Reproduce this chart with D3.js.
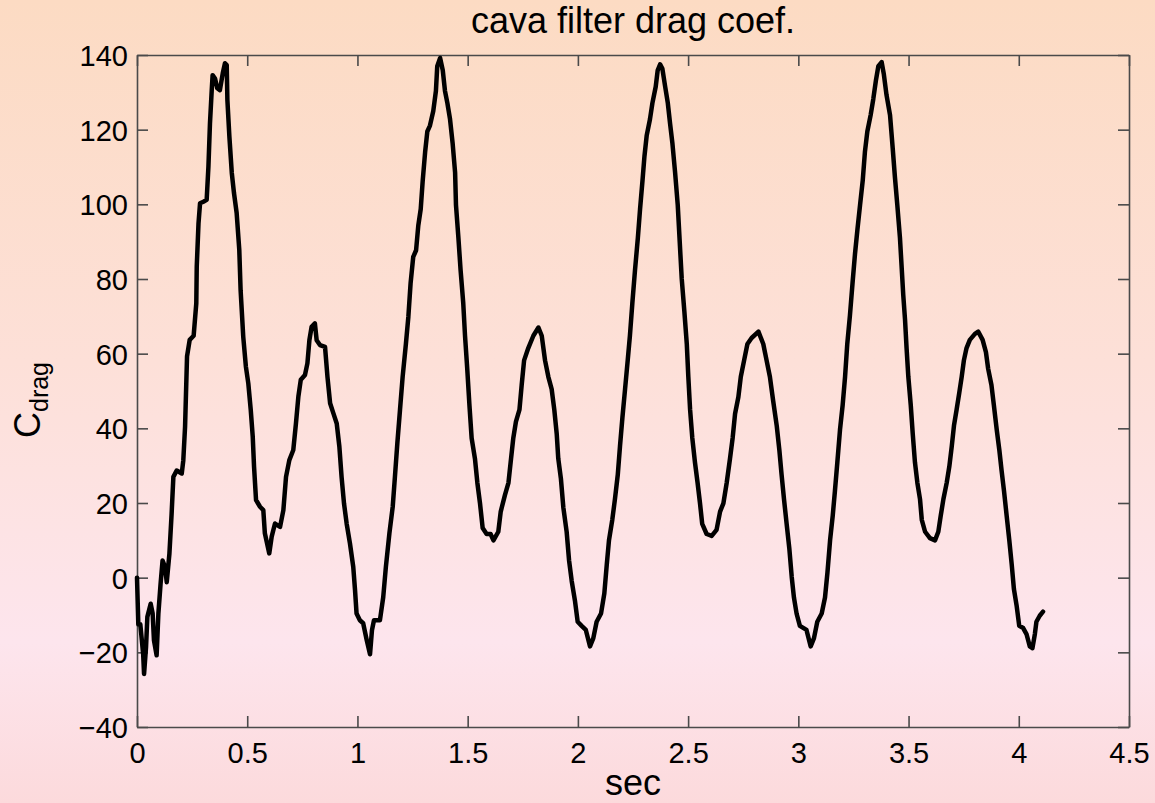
<!DOCTYPE html>
<html>
<head>
<meta charset="utf-8">
<script src="https://cdn.jsdelivr.net/npm/d3@7"></script>
<style>
  html, body { margin: 0; padding: 0; }
  body { width: 1155px; height: 803px; overflow: hidden; }
  text { font-family: "Liberation Sans", Arial, sans-serif; fill: #000; }
</style>
</head>
<body>
<svg id="chart" width="1155" height="803"></svg>
<script>
// ---- data ----
const timeSec = [
  0, 0.006, 0.015, 0.028, 0.032, 0.041, 0.047, 0.062, 0.071, 0.077, 0.089, 0.097, 0.107, 0.116, 0.127, 0.135,
  0.147, 0.157, 0.165, 0.18, 0.203, 0.21, 0.218, 0.227, 0.239, 0.257, 0.269, 0.271, 0.279, 0.286, 0.301, 0.316,
  0.324, 0.331, 0.339, 0.343, 0.354, 0.364, 0.376, 0.389, 0.399, 0.407, 0.41, 0.419, 0.43, 0.44, 0.452, 0.464,
  0.47, 0.482, 0.494, 0.505, 0.516, 0.525, 0.531, 0.54, 0.558, 0.573, 0.58, 0.6, 0.611, 0.626, 0.649, 0.664,
  0.676, 0.691, 0.709, 0.721, 0.732, 0.743, 0.762, 0.773, 0.782, 0.792, 0.807, 0.815, 0.83, 0.853, 0.864, 0.876,
  0.891, 0.906, 0.918, 0.928, 0.939, 0.951, 0.966, 0.981, 0.989, 0.996, 1.011, 1.026, 1.042, 1.057, 1.066, 1.075,
  1.102, 1.117, 1.129, 1.145, 1.16, 1.17, 1.181, 1.193, 1.205, 1.22, 1.231, 1.241, 1.253, 1.266, 1.276, 1.287,
  1.296, 1.307, 1.317, 1.329, 1.344, 1.356, 1.362, 1.375, 1.387, 1.397, 1.408, 1.42, 1.432, 1.443, 1.447, 1.458,
  1.468, 1.48, 1.488, 1.498, 1.508, 1.518, 1.533, 1.544, 1.556, 1.568, 1.586, 1.604, 1.617, 1.639, 1.65, 1.669,
  1.685, 1.695, 1.707, 1.719, 1.735, 1.745, 1.756, 1.775, 1.798, 1.821, 1.836, 1.851, 1.866, 1.881, 1.893, 1.904,
  1.911, 1.923, 1.934, 1.949, 1.96, 1.972, 1.987, 1.999, 2.017, 2.036, 2.055, 2.07, 2.085, 2.105, 2.12, 2.131,
  2.141, 2.156, 2.168, 2.181, 2.191, 2.202, 2.214, 2.226, 2.236, 2.247, 2.259, 2.272, 2.282, 2.293, 2.302, 2.312,
  2.327, 2.338, 2.353, 2.362, 2.373, 2.383, 2.396, 2.408, 2.418, 2.429, 2.441, 2.453, 2.463, 2.471, 2.483, 2.494,
  2.501, 2.509, 2.519, 2.531, 2.543, 2.554, 2.564, 2.584, 2.607, 2.629, 2.645, 2.66, 2.675, 2.69, 2.702, 2.713,
  2.728, 2.739, 2.754, 2.769, 2.788, 2.819, 2.841, 2.856, 2.871, 2.886, 2.902, 2.914, 2.924, 2.935, 2.947, 2.959,
  2.97, 2.98, 2.992, 3.007, 3.037, 3.056, 3.071, 3.086, 3.106, 3.121, 3.132, 3.144, 3.156, 3.166, 3.177, 3.189,
  3.201, 3.212, 3.222, 3.234, 3.246, 3.257, 3.268, 3.28, 3.292, 3.302, 3.313, 3.328, 3.34, 3.352, 3.363, 3.378,
  3.388, 3.4, 3.416, 3.428, 3.438, 3.449, 3.461, 3.476, 3.484, 3.491, 3.499, 3.51, 3.519, 3.529, 3.54, 3.552,
  3.56, 3.575, 3.597, 3.62, 3.635, 3.646, 3.658, 3.673, 3.685, 3.696, 3.706, 3.718, 3.73, 3.741, 3.751, 3.763,
  3.778, 3.801, 3.816, 3.836, 3.851, 3.861, 3.876, 3.887, 3.9, 3.912, 3.922, 3.933, 3.945, 3.957, 3.968, 3.978,
  3.99, 4.002, 4.02, 4.035, 4.05, 4.062, 4.073, 4.08, 4.095, 4.11
];
const cDrag = [
  0, -12.5, -12.5, -20.5, -25.8, -18.6, -10.5, -7, -9.6, -16.8, -20.8, -9.6, -1.6, 4.6, 2.9, -1.2,
  6.4, 17.1, 27, 28.7, 27.9, 31.4, 40.4, 59.3, 63.7, 64.8, 73.5, 83.3, 94.9, 100.3, 100.7, 101.2,
  110.1, 121.7, 130.6, 134.6, 133.7, 131.1, 130.6, 135.1, 137.8, 137.3, 128, 118.2, 108.4, 103, 97.7, 87.8,
  77, 64.5, 56.5, 52, 44.9, 37.8, 29.7, 20.8, 19, 18.1, 11.9, 6.5, 11, 14.5, 13.6, 18.1,
  27, 31.5, 34.2, 41.3, 48.5, 53, 54.3, 57.4, 63.6, 67.2, 68.1, 63.6, 62.3, 61.8, 53.8, 46.7,
  44, 41.3, 35.1, 27, 19.9, 14.5, 9.2, 2.9, -3.3, -9.6, -11.4, -12.2, -16.7, -20.5, -14, -11.4,
  -11.4, -5.2, 2.9, 11.9, 19, 27, 36, 44.9, 53.8, 62.7, 69.9, 78.8, 85.9, 87.7, 94.3, 98.7,
  106.3, 114, 119.5, 121.1, 125, 130.4, 137, 139.2, 135.9, 130.4, 127.1, 122.8, 116.2, 108.5, 99.8, 91,
  82.3, 73.5, 64.8, 56, 46.2, 37.4, 31.9, 25.4, 19.9, 13.3, 11.7, 11.7, 10, 12.3, 17.7, 22.1,
  25.4, 30.9, 37.4, 41.8, 45, 51.6, 58.2, 61.5, 64.8, 67, 64.8, 58.2, 53.8, 50.5, 45, 38.5,
  31.9, 26.5, 18.8, 12.3, 4.6, -0.9, -6.3, -11.8, -12.9, -14, -18.4, -16.2, -11.8, -9.6, -4.2, 3.5,
  10, 15.5, 21, 27.6, 35.2, 42.9, 50.5, 58.2, 64.8, 73.5, 82.3, 91, 98.7, 106.3, 112.9, 118.4,
  122.8, 127.1, 131.5, 135.9, 137.5, 136.4, 131.5, 127.1, 121.7, 116.2, 108.5, 99.8, 88.8, 80.1, 71.3, 62.6,
  53.8, 45, 37.4, 30.9, 25.4, 19.9, 14.4, 11.7, 11.2, 12.8, 17.7, 19.9, 25.4, 31.9, 37.4, 43.9,
  48.4, 53.8, 58.2, 62.6, 64.2, 65.9, 62.6, 58.2, 53.8, 47.3, 40.7, 34.1, 27.6, 21, 14.4, 7.9,
  0.2, -5.3, -9.6, -12.9, -14, -18.4, -16.2, -11.8, -9.6, -5.3, 1.3, 10, 16.6, 23.2, 30.9, 39.6,
  46.2, 53.8, 62.6, 70.2, 79, 86.7, 93.2, 99.8, 106.3, 114, 119.5, 123.9, 128.2, 133.2, 137, 138.1,
  134.8, 129.3, 123.9, 115.1, 107.4, 99.8, 91, 75.7, 69.1, 61.5, 53.8, 46.2, 38.5, 30.9, 25.4, 21,
  15.5, 12.3, 10.6, 10, 12.3, 16.6, 21, 25.4, 29.8, 35.2, 40.7, 45, 49.5, 53.8, 58.2, 61.5,
  63.7, 65.3, 65.9, 63.7, 60.4, 56, 51.6, 46.2, 39.6, 34.1, 28.7, 23.2, 16.6, 10, 3.5, -3.1,
  -7.4, -12.9, -13.5, -15.1, -18.4, -18.9, -15.1, -11.8, -10.2, -9.1
];
const xTicks = [0, 0.5, 1, 1.5, 2, 2.5, 3, 3.5, 4, 4.5];
const xTickLabels = ["0", "0.5", "1", "1.5", "2", "2.5", "3", "3.5", "4", "4.5"];
const yTicks = [-40, -20, 0, 20, 40, 60, 80, 100, 120, 140];
const yTickLabels = ["\u221240", "\u221220", "0", "20", "40", "60", "80", "100", "120", "140"];
const titleText = "cava filter drag coef.";
const xLabelText = "sec";
const yLabelMain = "C";
const yLabelSub = "drag";

// ---- layout ----
const W = 1155, H = 803;
const plot = { left: 137, right: 1129, top: 55, bottom: 727 };
const axisColor = "#4a4a4a";
const tickFont = 29;
const labelFont = 36;

const svg = d3.select("#chart");

// background gradient
const defs = svg.append("defs");
const grad = defs.append("linearGradient").attr("id", "bg").attr("x1", 0).attr("y1", 0).attr("x2", 0).attr("y2", 1);
grad.append("stop").attr("offset", "0%").attr("stop-color", "#fcdbc3");
grad.append("stop").attr("offset", "45%").attr("stop-color", "#fde0d8");
grad.append("stop").attr("offset", "80%").attr("stop-color", "#fde5ed");
grad.append("stop").attr("offset", "100%").attr("stop-color", "#fcdadc");
svg.append("rect").attr("width", W).attr("height", H).attr("fill", "url(#bg)");

const x = d3.scaleLinear().domain([0, 4.5]).range([plot.left, plot.right]);
const y = d3.scaleLinear().domain([-40, 140]).range([plot.bottom, plot.top]);

const tickLen = 11;

// axes via d3-axis (ticks inward)
const xAxisBottom = d3.axisBottom(x).tickValues(xTicks).tickFormat((d, i) => xTickLabels[i]).tickSizeInner(-tickLen).tickSizeOuter(0).tickPadding(15);
const xAxisTop = d3.axisTop(x).tickValues(xTicks).tickFormat("").tickSizeInner(-tickLen).tickSizeOuter(0);
const yAxisLeft = d3.axisLeft(y).tickValues(yTicks).tickFormat((d, i) => yTickLabels[i]).tickSizeInner(-tickLen).tickSizeOuter(0).tickPadding(9);
const yAxisRight = d3.axisRight(y).tickValues(yTicks).tickFormat("").tickSizeInner(-tickLen).tickSizeOuter(0);

function styleAxis(g) {
  g.selectAll(".domain").attr("stroke", axisColor).attr("stroke-width", 1.6);
  g.selectAll(".tick line").attr("stroke", axisColor).attr("stroke-width", 1.6);
  g.selectAll(".tick text").attr("font-family", "'Liberation Sans', Arial, sans-serif").attr("font-size", tickFont).attr("fill", "#000");
}

const gxb = svg.append("g").attr("transform", `translate(0,${plot.bottom})`).call(xAxisBottom).call(styleAxis);
gxb.selectAll(".tick text").attr("dy", "0.71em");
svg.append("g").attr("transform", `translate(0,${plot.top})`).call(xAxisTop).call(styleAxis);
const gyl = svg.append("g").attr("transform", `translate(${plot.left},0)`).call(yAxisLeft).call(styleAxis);
gyl.selectAll(".tick text").attr("dy", "0.36em");
svg.append("g").attr("transform", `translate(${plot.right},0)`).call(yAxisRight).call(styleAxis);

// data line
const pts = timeSec.map((t, i) => [t, cDrag[i]]);
const line = d3.line().x(d => x(d[0])).y(d => y(d[1])).curve(d3.curveLinear);
svg.append("path").datum(pts).attr("d", line)
  .attr("fill", "none").attr("stroke", "#000").attr("stroke-width", 4.5)
  .attr("stroke-linejoin", "round").attr("stroke-linecap", "round");

// title
svg.append("text").attr("x", (plot.left + plot.right) / 2).attr("y", 33)
  .attr("text-anchor", "middle").attr("font-size", labelFont).text(titleText);

// x label
svg.append("text").attr("x", (plot.left + plot.right) / 2).attr("y", 795)
  .attr("text-anchor", "middle").attr("font-size", labelFont).text(xLabelText);

// y label (rotated, with subscript)
const yl = svg.append("text").attr("transform", `translate(40,400) rotate(-90)`)
  .attr("text-anchor", "middle").attr("font-size", labelFont);
yl.append("tspan").text(yLabelMain);
yl.append("tspan").attr("font-size", 25).attr("dy", 8).text(yLabelSub);
</script>
</body>
</html>
